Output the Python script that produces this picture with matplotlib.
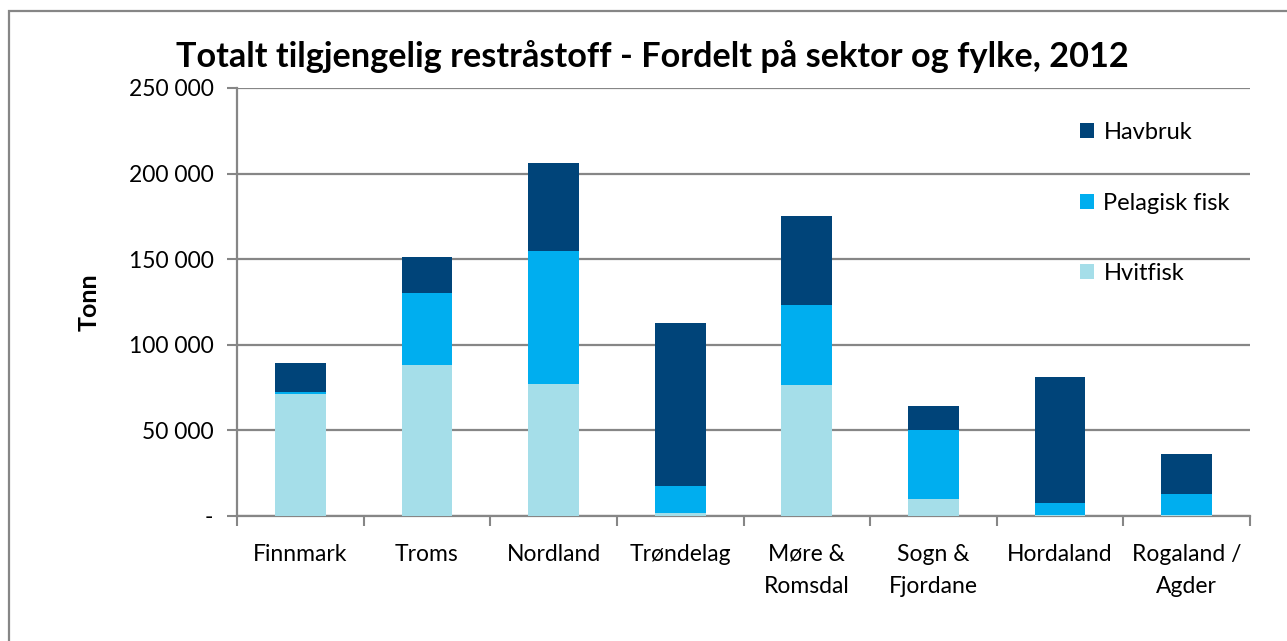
import matplotlib
matplotlib.use("Agg")
import matplotlib.pyplot as plt
from matplotlib.patches import Rectangle
import numpy as np

categories = ["Finnmark", "Troms", "Nordland", "Trøndelag", "Møre &\nRomsdal",
              "Sogn &\nFjordane", "Hordaland", "Rogaland /\nAgder"]
hvitfisk = [71000, 88000, 77000, 1500, 76500, 10000, 300, 500]
pelagisk = [1200, 42000, 78000, 16000, 47000, 40000, 7300, 12600]
havbruk = [17000, 21000, 51000, 95000, 51500, 14000, 73500, 23000]
yticks = [0, 50000, 100000, 150000, 200000, 250000]
ytick_labels = ["-", "50 000", "100 000", "150 000", "200 000", "250 000"]

plt.rcParams['font.family'] = ['Lato', 'DejaVu Sans']

W, H = 1287, 641
fig = plt.figure(figsize=(W / 100, H / 100), dpi=100)
ax = fig.add_axes([237 / W, 1 - 516 / H, (1250 - 237) / W, (516 - 88) / H])

c_hav = "#004479"
c_pel = "#00AEEF"
c_hvit = "#A5DEE9"

x = np.arange(len(categories))
w = 0.4
ax.bar(x, hvitfisk, w, color=c_hvit, zorder=3, label="Hvitfisk")
ax.bar(x, pelagisk, w, bottom=hvitfisk, color=c_pel, zorder=3, label="Pelagisk fisk")
bot2 = np.array(hvitfisk) + np.array(pelagisk)
ax.bar(x, havbruk, w, bottom=bot2, color=c_hav, zorder=3, label="Havbruk")

ax.set_xlim(-0.5, len(categories) - 0.5)
ax.set_ylim(0, 250000)
ax.set_yticks(yticks)
ax.set_yticklabels(ytick_labels, fontsize=16.5)
ax.set_xticks(x)
ax.set_xticklabels(categories, fontsize=16.5, linespacing=1.65)
ax.set_xticks(np.arange(-0.5, len(categories), 1), minor=True)
ax.tick_params(axis='x', which='major', length=0, pad=20)
ax.tick_params(axis='x', which='minor', length=7, width=1.5, color="#868686")
ax.tick_params(axis='y', length=7, width=1.5, color="#868686", pad=10)
ax.grid(axis='y', color="#868686", linewidth=1.6, zorder=0)
for s in ["top", "right"]:
    ax.spines[s].set_visible(False)
for s in ["left", "bottom"]:
    ax.spines[s].set_color("#868686")
    ax.spines[s].set_linewidth(1.6)

ax.set_ylabel("Tonn", fontsize=18, fontweight="bold", labelpad=20)

handles, labels = ax.get_legend_handles_labels()
leg = ax.legend(handles[::-1], labels[::-1], loc="upper left",
                bbox_to_anchor=(0.811, 0.97), frameon=False, fontsize=17,
                handlelength=0.6, handleheight=0.6, handletextpad=0.4,
                labelspacing=2.1)

fig.text(652.5 / W, 1 - 57 / H, "Totalt tilgjengelig restråstoff - Fordelt på sektor og fylke, 2012",
         ha="center", va="center", fontsize=24.7, fontweight="bold")

fig.patches.append(Rectangle((9 / W, -0.1), 1.2, 1 - 11 / H + 0.1, transform=fig.transFigure,
                             fill=False, edgecolor="#868686", linewidth=1.6))

fig.savefig("out.png", dpi=100)
